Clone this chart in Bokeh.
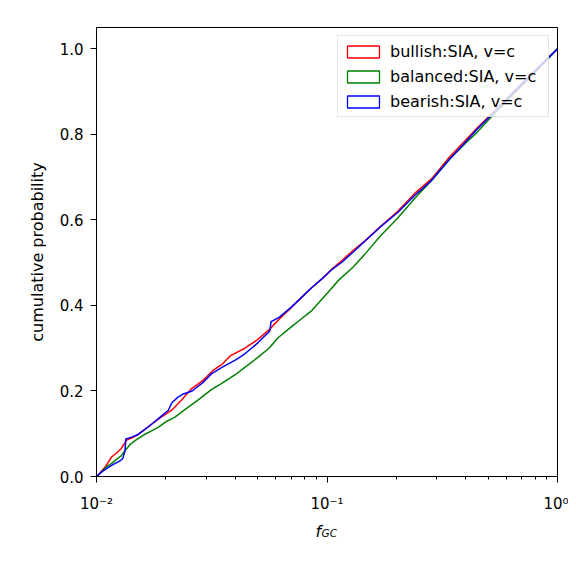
from bokeh.plotting import figure
from bokeh.models import FixedTicker, CustomJSTickFormatter, NumeralTickFormatter, Label, Legend, LegendItem
from bokeh.embed import file_html
from bokeh.resources import INLINE

# ---------------- data ----------------
bull_x = [0.0100, 0.0105, 0.0110, 0.0116, 0.0122, 0.0128, 0.0131, 0.0135, 0.0142, 0.0150,
          0.0160, 0.0175, 0.0190, 0.0212, 0.0235, 0.0258, 0.0290, 0.0320, 0.0350, 0.0380,
          0.0440, 0.0500, 0.0565, 0.0620, 0.0700, 0.0780, 0.0860, 0.0950, 0.1050, 0.1160,
          0.1300, 0.1460, 0.1700, 0.2033, 0.2400, 0.2840, 0.3400, 0.4000, 0.4500, 0.5000,
          0.6000, 0.7000, 0.8000, 0.9000, 1.0000]
bull_y = [0.000, 0.012, 0.025, 0.045, 0.055, 0.065, 0.074, 0.085, 0.090, 0.097,
          0.108, 0.124, 0.138, 0.155, 0.180, 0.205, 0.225, 0.248, 0.262, 0.282,
          0.300, 0.320, 0.345, 0.368, 0.395, 0.420, 0.442, 0.462, 0.485, 0.505,
          0.529, 0.551, 0.584, 0.621, 0.662, 0.696, 0.747, 0.787, 0.816, 0.840,
          0.883, 0.919, 0.950, 0.977, 1.000]

bal_x = [0.0100, 0.0105, 0.0110, 0.0116, 0.0122, 0.0128, 0.0133, 0.0140, 0.0147, 0.0160,
         0.0175, 0.0185, 0.0200, 0.0219, 0.0240, 0.0270, 0.0315, 0.0348, 0.0400, 0.0440,
         0.0500, 0.0560, 0.0615, 0.0700, 0.0780, 0.0859, 0.1000, 0.1118, 0.1300, 0.1460,
         0.1700, 0.2033, 0.2400, 0.2840, 0.3400, 0.4000, 0.4500, 0.5000, 0.6000, 0.7000,
         0.8000, 0.9000, 1.0000]
bal_y = [0.000, 0.010, 0.022, 0.030, 0.040, 0.048, 0.061, 0.075, 0.084, 0.097,
         0.108, 0.115, 0.128, 0.139, 0.155, 0.175, 0.203, 0.217, 0.238, 0.255,
         0.278, 0.300, 0.325, 0.350, 0.370, 0.388, 0.428, 0.458, 0.490, 0.520,
         0.562, 0.605, 0.650, 0.692, 0.742, 0.780, 0.806, 0.833, 0.877, 0.914,
         0.945, 0.974, 1.000]

bear_x = [0.0100, 0.0106, 0.0113, 0.0120, 0.0126, 0.0130, 0.0133, 0.0134, 0.0142, 0.0150,
          0.0160, 0.0175, 0.0190, 0.0205, 0.0212, 0.0225, 0.0238, 0.0260, 0.0290, 0.0315,
          0.0350, 0.0400, 0.0440, 0.0500, 0.0555, 0.0565, 0.0572, 0.0620, 0.0700, 0.0780,
          0.0860, 0.0950, 0.1050, 0.1160, 0.1300, 0.1460, 0.1700, 0.2033, 0.2400, 0.2840,
          0.3400, 0.4000, 0.4500, 0.5000, 0.6000, 0.7000, 0.8000, 0.9000, 1.0000]
bear_y = [0.000, 0.012, 0.022, 0.030, 0.036, 0.042, 0.060, 0.088, 0.092, 0.097,
          0.108, 0.124, 0.140, 0.155, 0.172, 0.185, 0.193, 0.200, 0.220, 0.240,
          0.255, 0.272, 0.287, 0.312, 0.336, 0.341, 0.362, 0.372, 0.396, 0.420,
          0.442, 0.462, 0.484, 0.501, 0.525, 0.550, 0.583, 0.618, 0.657, 0.692,
          0.742, 0.783, 0.813, 0.838, 0.881, 0.917, 0.948, 0.976, 1.000]

series_labels = ["bullish:SIA, v=c", "balanced:SIA, v=c", "bearish:SIA, v=c"]
series_colors = ["red", "green", "blue"]

x_major_ticks = [0.01, 0.1, 1.0]
y_ticks = [0.0, 0.2, 0.4, 0.6, 0.8, 1.0]

FONT = "DejaVu Sans"
NAN = float("nan")

p = figure(x_axis_type="log", x_range=(0.01, 1.0), y_range=(0.0, 1.05),
           frame_width=461, frame_height=449,
           min_border_left=96, min_border_right=11, min_border_top=27, min_border_bottom=78,
           output_backend="svg", toolbar_location=None)

p.grid.visible = False
p.outline_line_color = "black"
p.outline_line_width = 1
p.background_fill_color = "white"
p.border_fill_color = "white"

for xs, ys, c in zip([bull_x, bal_x, bear_x], [bull_y, bal_y, bear_y], series_colors):
    p.line(xs, ys, line_color=c, line_width=1.5)

# legend proxies (unfilled boxes like matplotlib step-hist patches); NaN => nothing drawn in plot
items = []
for lab, c in zip(series_labels, series_colors):
    r = p.quad(left=[NAN], right=[NAN], top=[NAN], bottom=[NAN],
               fill_color=None, line_color=c, line_width=1.3)
    items.append(LegendItem(label=lab, renderers=[r]))

legend = Legend(items=items, location="top_right", margin=8, padding=5,
                glyph_width=40, glyph_height=15, label_height=20, label_width=153,
                spacing=5, label_standoff=7,
                label_text_font=FONT, label_text_font_size="16px", label_text_color="black",
                border_line_color="#cccccc", border_line_width=1,
                background_fill_color="white", background_fill_alpha=0.8)
p.add_layout(legend)

# x axis
minor = [m * d for d in [0.01, 0.1] for m in range(2, 10)]
p.xaxis.ticker = FixedTicker(ticks=x_major_ticks, minor_ticks=minor)
p.xaxis.formatter = CustomJSTickFormatter(code="""
const e = Math.round(Math.log10(tick));
const sup = {'-': '\u207b', '0': '\u2070', '1': '\u00b9', '2': '\u00b2', '3': '\u00b3'};
return '10' + String(e).split('').map(ch => sup[ch]).join('');
""")
p.xaxis.major_tick_out = 6
p.xaxis.major_tick_in = 0
p.xaxis.minor_tick_out = 3
p.xaxis.minor_tick_in = 0
p.xaxis.major_label_standoff = 12
p.xaxis.axis_label = None

# y axis
p.yaxis.ticker = FixedTicker(ticks=y_ticks)
p.yaxis.formatter = NumeralTickFormatter(format="0.0")
p.yaxis.major_tick_out = 6
p.yaxis.major_tick_in = 0
p.yaxis.minor_tick_line_color = None
p.yaxis.major_label_standoff = 7
p.yaxis.axis_label = "cumulative probability"
p.yaxis.axis_label_standoff = 10
p.yaxis.axis_label_text_font = FONT
p.yaxis.axis_label_text_font_size = "16px"
p.yaxis.axis_label_text_font_style = "normal"
p.yaxis.axis_label_text_color = "black"

for ax in [p.xaxis[0], p.yaxis[0]]:
    ax.axis_line_color = "black"
    ax.major_tick_line_color = "black"
    ax.major_label_text_font = FONT
    ax.major_label_text_font_size = "15px"
    ax.major_label_text_color = "black"
p.xaxis.minor_tick_line_color = "black"

# x axis label f_GC built from two text labels placed in the panels below the axis
p.add_layout(Label(x=219, y=3, x_units="screen", y_units="screen",
                   text="f", text_font=FONT, text_font_size="16px", text_font_style="italic",
                   text_color="black", text_align="left", text_baseline="alphabetic"), "below")
p.add_layout(Label(x=225, y=14, x_units="screen", y_units="screen",
                   text="GC", text_font=FONT, text_font_size="10.5px", text_font_style="italic",
                   text_color="black", text_align="left", text_baseline="alphabetic"), "below")

open("out.html", "w").write(file_html(p, INLINE))
